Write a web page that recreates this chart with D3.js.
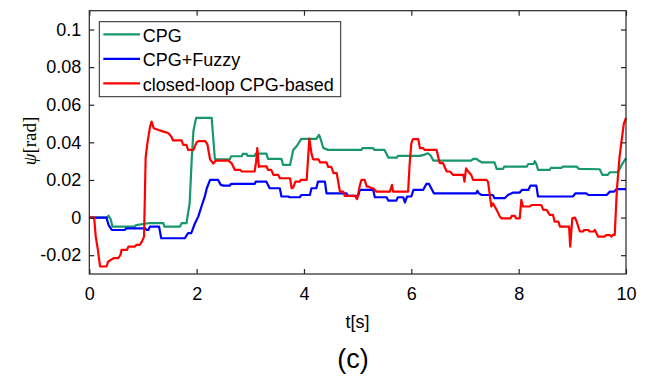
<!DOCTYPE html>
<html>
<head>
<meta charset="utf-8">
<script src="https://d3js.org/d3.v7.min.js"></script>
<style>
  body { margin: 0; background: #fff; }
  svg { font-family: "Liberation Sans", Arial, sans-serif; }
  svg text { fill: #000; }
  .axis path, .axis line { stroke: #262626; stroke-width: 1.2; }
  .ylab, .ylab tspan { font-family: "Liberation Serif", "Times New Roman", serif; }
</style>
</head>
<body>
<div id="chart"></div>
<script>
// series: [t, psi]
var cpg = [[0,0],[0.33,0],[0.36,0.001],[0.40,-0.001],[0.43,-0.0048],[0.85,-0.0048],[0.87,-0.004],[1.10,-0.003],[1.38,-0.003],[1.40,-0.0048],[1.69,-0.0048],[1.72,-0.003],[1.81,-0.003],[1.87,0.0076],[1.91,0.032],[1.94,0.046],[1.99,0.053],[2.28,0.053],[2.34,0.031],[2.62,0.031],[2.64,0.0326],[2.84,0.0326],[2.86,0.0339],[2.93,0.0339],[2.95,0.0328],[3.08,0.0328],[3.10,0.034],[3.30,0.034],[3.33,0.0312],[3.58,0.0312],[3.61,0.028],[3.74,0.028],[3.80,0.036],[3.86,0.0378],[3.95,0.0418],[4.23,0.0418],[4.28,0.044],[4.31,0.0418],[4.36,0.037],[4.45,0.036],[5.07,0.036],[5.09,0.0369],[5.29,0.0369],[5.31,0.036],[5.50,0.036],[5.57,0.0319],[5.73,0.0319],[5.75,0.0328],[6.16,0.0328],[6.25,0.0335],[6.31,0.0342],[6.36,0.033],[6.41,0.0303],[7.12,0.0303],[7.15,0.0312],[7.22,0.0312],[7.25,0.0303],[7.31,0.0294],[7.55,0.0294],[7.59,0.0259],[7.71,0.0259],[7.73,0.0271],[8.15,0.0271],[8.18,0.0285],[8.28,0.0285],[8.30,0.030],[8.33,0.0285],[8.36,0.0254],[8.58,0.0254],[8.60,0.0264],[8.80,0.0264],[8.82,0.0271],[9.08,0.0271],[9.12,0.0259],[9.51,0.0257],[9.56,0.0227],[9.66,0.0227],[9.70,0.0241],[9.85,0.0241],[9.92,0.028],[10,0.0316]];

var fuzzy = [[0,0],[0.32,0],[0.36,-0.004],[0.42,-0.0066],[0.66,-0.0066],[0.69,-0.0057],[1.04,-0.0057],[1.07,-0.0066],[1.10,-0.0066],[1.13,-0.0048],[1.30,-0.0048],[1.34,-0.011],[1.78,-0.011],[1.84,-0.0083],[1.90,-0.0083],[1.97,-0.003],[2.03,0.0005],[2.09,0.0059],[2.15,0.011],[2.19,0.0156],[2.25,0.020],[2.40,0.020],[2.45,0.0174],[2.50,0.017],[2.62,0.017],[2.64,0.0179],[3.08,0.0179],[3.10,0.0191],[3.30,0.0191],[3.36,0.0156],[3.55,0.0156],[3.58,0.0112],[3.71,0.0112],[3.73,0.0108],[3.92,0.0108],[3.95,0.012],[4.11,0.012],[4.14,0.0156],[4.23,0.0156],[4.26,0.0191],[4.39,0.0191],[4.42,0.0129],[4.79,0.0129],[4.82,0.0115],[5.01,0.0115],[5.04,0.0147],[5.29,0.0147],[5.32,0.0108],[5.54,0.0108],[5.57,0.009],[5.72,0.009],[5.75,0.0108],[5.85,0.0108],[5.88,0.008],[5.92,0.0112],[6.0,0.0112],[6.04,0.0147],[6.22,0.0147],[6.28,0.0179],[6.33,0.0179],[6.42,0.0129],[7.21,0.0129],[7.23,0.0142],[7.26,0.0129],[7.31,0.012],[7.52,0.012],[7.55,0.0103],[7.74,0.0103],[7.80,0.012],[7.90,0.0133],[8.02,0.0133],[8.06,0.0147],[8.18,0.0147],[8.22,0.017],[8.33,0.017],[8.36,0.0112],[9.01,0.0112],[9.06,0.0129],[9.26,0.0129],[9.30,0.012],[9.64,0.012],[9.70,0.0138],[9.78,0.0138],[9.82,0.0151],[10,0.0151]];

var closedLoop = [[0,0],[0.09,0],[0.12,-0.0101],[0.16,-0.0172],[0.20,-0.026],[0.32,-0.026],[0.35,-0.0234],[0.45,-0.0216],[0.54,-0.0216],[0.58,-0.0199],[0.60,-0.0172],[0.70,-0.0172],[0.73,-0.0154],[0.85,-0.0154],[0.88,-0.0145],[0.94,-0.0145],[0.98,-0.0128],[1.02,-0.0101],[1.05,0.032],[1.09,0.041],[1.13,0.048],[1.16,0.051],[1.20,0.0475],[1.29,0.0466],[1.38,0.0457],[1.47,0.045],[1.53,0.043],[1.56,0.041],[1.72,0.041],[1.75,0.0387],[1.81,0.0387],[1.84,0.036],[1.94,0.036],[2.0,0.040],[2.03,0.0406],[2.16,0.0406],[2.20,0.039],[2.25,0.031],[2.31,0.0287],[2.36,0.0303],[2.59,0.0303],[2.65,0.029],[2.71,0.0254],[2.81,0.0254],[2.84,0.0245],[3.08,0.0245],[3.11,0.030],[3.13,0.0369],[3.16,0.027],[3.18,0.0272],[3.30,0.0272],[3.33,0.0254],[3.39,0.0254],[3.43,0.0227],[3.52,0.0227],[3.55,0.0209],[3.74,0.0209],[3.77,0.0156],[3.80,0.016],[3.84,0.0191],[3.92,0.0191],[3.94,0.020],[4.05,0.020],[4.10,0.042],[4.14,0.034],[4.17,0.031],[4.27,0.031],[4.30,0.0293],[4.42,0.0293],[4.45,0.027],[4.51,0.027],[4.55,0.0236],[4.61,0.0236],[4.67,0.0138],[4.73,0.0138],[4.76,0.0115],[4.95,0.0115],[4.99,0.0098],[5.04,0.017],[5.07,0.020],[5.13,0.020],[5.17,0.0165],[5.20,0.0165],[5.26,0.0156],[5.29,0.0156],[5.35,0.0138],[5.60,0.0138],[5.64,0.0174],[5.66,0.0138],[5.94,0.0138],[5.97,0.029],[6.0,0.0395],[6.03,0.0417],[6.13,0.0417],[6.16,0.0369],[6.22,0.0369],[6.25,0.036],[6.47,0.036],[6.50,0.0324],[6.53,0.029],[6.59,0.029],[6.62,0.027],[6.66,0.0245],[6.72,0.0245],[6.78,0.0227],[6.97,0.0227],[6.99,0.0191],[7.02,0.0262],[7.06,0.0245],[7.12,0.0225],[7.15,0.020],[7.40,0.020],[7.43,0.019],[7.49,0.0059],[7.52,0.0076],[7.59,0.0041],[7.65,0.0005],[7.68,-0.0004],[7.85,-0.0004],[7.87,0.0009],[7.93,0.0009],[7.95,-0.0004],[8.02,-0.0004],[8.05,0.0094],[8.08,0.0059],[8.21,0.0059],[8.24,0.0067],[8.42,0.0067],[8.46,0.0041],[8.52,0.0041],[8.58,0.0014],[8.64,0.0014],[8.67,-0.0021],[8.74,-0.0021],[8.77,-0.0048],[8.94,-0.0048],[8.96,-0.0154],[9.0,-0.0004],[9.05,0.0],[9.08,-0.0021],[9.14,-0.0074],[9.20,-0.0074],[9.22,-0.0066],[9.30,-0.0066],[9.32,-0.0074],[9.40,-0.0074],[9.42,-0.0066],[9.48,-0.0101],[9.60,-0.0101],[9.63,-0.0093],[9.70,-0.0093],[9.73,-0.0101],[9.76,-0.0092],[9.79,-0.0092],[9.83,0.0147],[9.88,0.0324],[9.92,0.0413],[9.96,0.050],[10,0.053]];

var seriesNames = ["CPG", "CPG+Fuzzy", "closed-loop CPG-based"];
var seriesColors = ["#17976a", "#0000ff", "#ff0000"];
var xTicks = [0, 2, 4, 6, 8, 10];
var yTicks = [-0.02, 0, 0.02, 0.04, 0.06, 0.08, 0.1];
var yTickLabels = ["-0.02", "0", "0.02", "0.04", "0.06", "0.08", "0.1"];

var w = 648, h = 378;
var pLeft = 89.3, pRight = 626, pTop = 10.7, pBottom = 274;

var svg = d3.select("#chart").append("svg")
    .attr("width", w).attr("height", h);

var x = d3.scaleLinear().domain([0, 10]).range([pLeft, pRight]);
var y = d3.scaleLinear().domain([-0.03, 0.11]).range([pBottom, pTop]);

// data lines
var line = d3.line()
    .x(function(d) { return x(d[0]); })
    .y(function(d) { return y(d[1]); });

var plot = svg.append("g");
[cpg, fuzzy, closedLoop].forEach(function(s, i) {
    plot.append("path")
        .datum(s)
        .attr("d", line)
        .attr("fill", "none")
        .attr("stroke", seriesColors[i])
        .attr("stroke-width", 2.2)
        .attr("stroke-linejoin", "round");
});

// axes, ticks pointing inward on all sides
var xAxis = d3.axisBottom(x).tickValues(xTicks).tickSizeInner(-5).tickSizeOuter(0).tickPadding(13);
var yAxis = d3.axisLeft(y).tickValues(yTicks).tickSizeInner(-5).tickSizeOuter(0).tickPadding(8)
    .tickFormat(function(d, i) { return yTickLabels[i]; });

var gx = svg.append("g").attr("class", "axis")
    .attr("transform", "translate(0," + pBottom + ")").call(xAxis);
var gy = svg.append("g").attr("class", "axis")
    .attr("transform", "translate(" + pLeft + ",0)").call(yAxis);
svg.append("g").attr("class", "axis")
    .attr("transform", "translate(0," + pTop + ")")
    .call(d3.axisTop(x).tickValues(xTicks).tickSizeInner(-5).tickSizeOuter(0).tickFormat(""));
svg.append("g").attr("class", "axis")
    .attr("transform", "translate(" + pRight + ",0)")
    .call(d3.axisRight(y).tickValues(yTicks).tickSizeInner(-5).tickSizeOuter(0).tickFormat(""));

svg.selectAll(".axis .domain").remove();
svg.append("rect")
    .attr("x", pLeft).attr("y", pTop)
    .attr("width", pRight - pLeft).attr("height", pBottom - pTop)
    .attr("fill", "none").attr("stroke", "#262626").attr("stroke-width", 1.2);

gx.selectAll("text").attr("font-size", "18px").attr("font-family", "Liberation Sans, Arial, sans-serif").attr("fill", "#000");
gy.selectAll("text").attr("font-size", "18px").attr("font-family", "Liberation Sans, Arial, sans-serif").attr("fill", "#000");

// labels
svg.append("text")
    .attr("x", 357.5).attr("y", 328)
    .attr("text-anchor", "middle")
    .attr("font-size", "18px")
    .text("t[s]");

var yl = svg.append("text")
    .attr("class", "ylab")
    .attr("transform", "translate(35.5,141) rotate(-90)")
    .attr("text-anchor", "middle")
    .attr("font-size", "19px");
yl.append("tspan").attr("font-style", "italic").text("ψ");
yl.append("tspan").text("[rad]");

svg.append("text")
    .attr("x", 353).attr("y", 368)
    .attr("text-anchor", "middle")
    .attr("font-size", "27px")
    .text("(c)");

// legend
var lg = svg.append("g");
lg.append("rect")
    .attr("x", 99.3).attr("y", 21.7)
    .attr("width", 241.4).attr("height", 75)
    .attr("fill", "#fff").attr("stroke", "#262626").attr("stroke-width", 1);
seriesNames.forEach(function(name, i) {
    var ly = 34.3 + i * 24.5;
    lg.append("line")
        .attr("x1", 103.3).attr("x2", 140)
        .attr("y1", ly).attr("y2", ly)
        .attr("stroke", seriesColors[i]).attr("stroke-width", 2.2);
    lg.append("text")
        .attr("x", 142.7).attr("y", ly + 7.2)
        .attr("font-size", "18px")
        .text(name);
});
</script>
</body>
</html>
